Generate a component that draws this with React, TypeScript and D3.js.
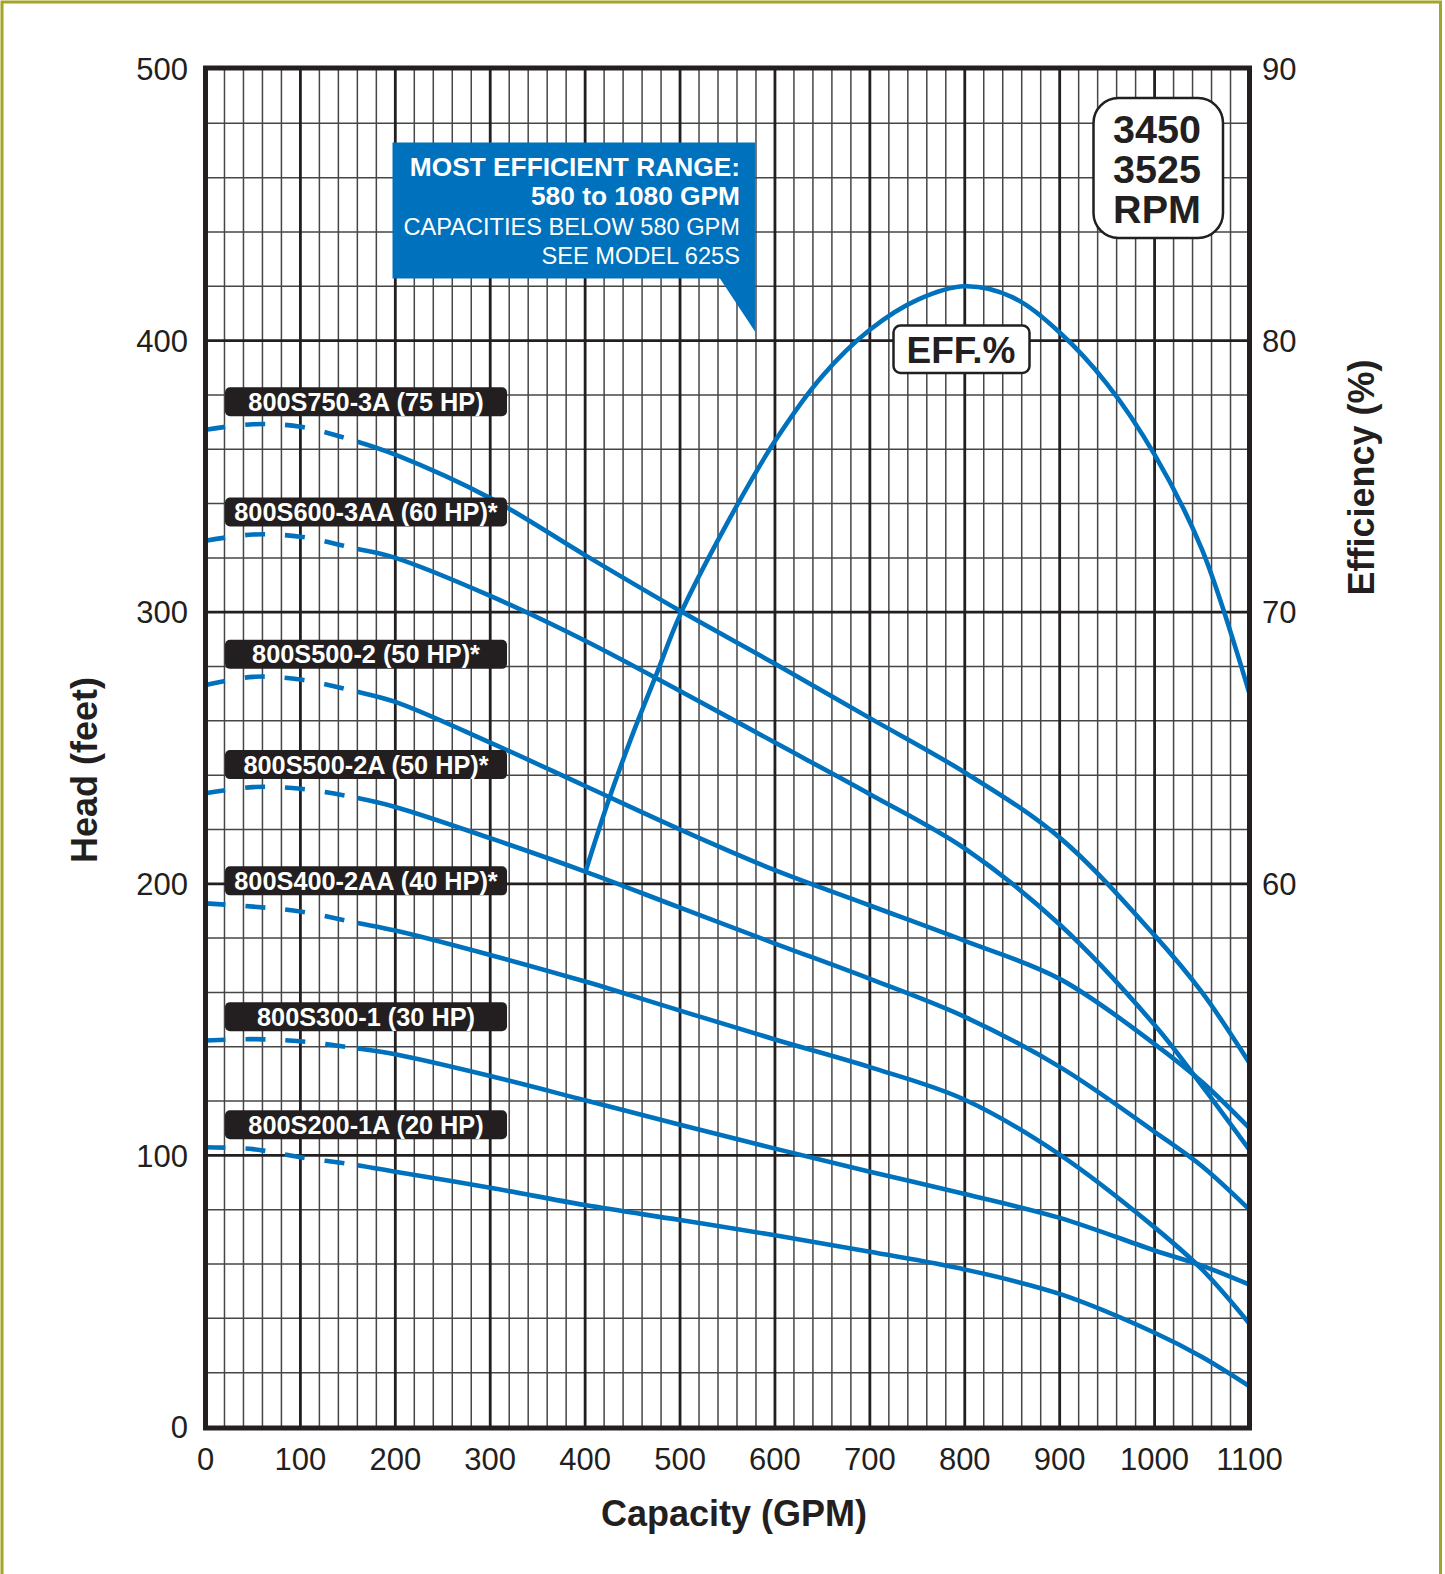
import * as d3 from 'd3';

// ---- Data ------------------------------------------------------------------
const GPM = [0, 50, 100, 160, 200, 300, 400, 500, 600, 700, 800, 900, 1000, 1050, 1100];

const HEAD_800S750_3A = [367.2, 369.2, 368.3, 362.8, 358, 342, 321, 300.5, 281, 261, 241, 217, 181, 160, 134];
const HEAD_800S600_3AA = [326.3, 328.6, 327.8, 323.3, 320, 306, 289.5, 271, 252, 233, 213, 185, 148, 125.6, 102];
const HEAD_800S500_2 = [273.2, 276.2, 275.2, 270.7, 267, 252, 236, 220, 205, 192, 179, 165, 141, 127, 110];
const HEAD_800S500_2A = [233.3, 235.6, 235, 231.6, 228.3, 216.8, 204.5, 191.2, 178, 165, 151, 132.6, 108.7, 96, 80];
const HEAD_800S400_2AA = [192.8, 191.6, 189.8, 185.6, 182.8, 173.8, 164, 153.3, 142.7, 132.5, 120.5, 100.3, 73.5, 58, 38];
const HEAD_800S300_1 = [142.3, 142.8, 142, 139.4, 137.2, 129.2, 120.3, 111.3, 102.5, 94, 85.8, 77, 65, 59.4, 52.4];
const HEAD_800S200_1A = [103, 102.3, 99.3, 96.4, 94, 88.1, 81.7, 76.2, 70.6, 64.5, 58, 49, 34.7, 25.8, 15];

const MODEL_LABELS = [
  '800S750-3A (75 HP)',
  '800S600-3AA (60 HP)*',
  '800S500-2 (50 HP)*',
  '800S500-2A (50 HP)*',
  '800S400-2AA (40 HP)*',
  '800S300-1 (30 HP)',
  '800S200-1A (20 HP)',
];
const MODEL_HEADS = [
  HEAD_800S750_3A,
  HEAD_800S600_3AA,
  HEAD_800S500_2,
  HEAD_800S500_2A,
  HEAD_800S400_2AA,
  HEAD_800S300_1,
  HEAD_800S200_1A,
];

const EFF_GPM = [400, 425, 450, 475, 500, 550, 600, 650, 700, 750, 800, 850, 900, 950, 1000, 1050, 1100];
const EFF_PCT = [60.4, 63.1, 65.5, 67.7, 69.9, 73.3, 76.3, 78.7, 80.4, 81.5, 82.0, 81.6, 80.3, 78.4, 75.8, 72.3, 67.0];

const GPM_TICKS = [0, 100, 200, 300, 400, 500, 600, 700, 800, 900, 1000, 1100];
const HEAD_TICKS = [0, 100, 200, 300, 400, 500];
const EFF_TICKS = [60, 70, 80, 90];

const DASHED_UP_TO_GPM = 160; // below this flow the curves are drawn dashed
const EFFICIENT_FROM_GPM = 580;

const RPM_LINES = ['3450', '3525', 'RPM'];
const CALLOUT_BOLD = ['MOST EFFICIENT RANGE:', '580 to 1080 GPM'];
const CALLOUT_PLAIN = ['CAPACITIES BELOW 580 GPM', 'SEE MODEL 625S'];

// ---- Layout -----------------------------------------------------------------
const WIDTH = 1445;
const HEIGHT = 1574;
const PLOT = { left: 205.5, right: 1249.5, top: 69, bottom: 1427 } as const;

const FONT = 'Liberation Sans, Arial, Helvetica, sans-serif';
const INK = '#231f20';
const BLUE = '#0071bc';
const FRAME = '#a3a526';
const CURVE_W = 4.6;

const x = d3.scaleLinear().domain([0, 1100]).range([PLOT.left, PLOT.right]);
const yHead = d3.scaleLinear().domain([0, 500]).range([PLOT.bottom, PLOT.top]);
const yEff = d3.scaleLinear().domain([40, 90]).range([PLOT.bottom, PLOT.top]);

const headLine = d3
  .line<[number, number]>()
  .x((d) => x(d[0]))
  .y((d) => yHead(d[1]))
  .curve(d3.curveCatmullRom.alpha(0.5));

const effLine = d3
  .line<[number, number]>()
  .x((d) => x(d[0]))
  .y((d) => yEff(d[1]))
  .curve(d3.curveCatmullRom.alpha(0.5));

function Grid() {
  const vMinor = d3.range(20, 1100, 20).filter((g) => g % 100 !== 0);
  const vMajor = d3.range(100, 1100, 100);
  const hMinor = d3.range(20, 500, 20).filter((h) => h % 100 !== 0);
  const hMajor = d3.range(100, 500, 100);
  return (
    <g>
      {vMinor.map((g) => (
        <line key={`vm${g}`} x1={x(g)} x2={x(g)} y1={PLOT.top} y2={PLOT.bottom} stroke="#464646" strokeWidth={1.5} />
      ))}
      {hMinor.map((h) => (
        <line key={`hm${h}`} x1={PLOT.left} x2={PLOT.right} y1={yHead(h)} y2={yHead(h)} stroke="#464646" strokeWidth={1.5} />
      ))}
      {vMajor.map((g) => (
        <line key={`vM${g}`} x1={x(g)} x2={x(g)} y1={PLOT.top} y2={PLOT.bottom} stroke={INK} strokeWidth={2.8} />
      ))}
      {hMajor.map((h) => (
        <line key={`hM${h}`} x1={PLOT.left} x2={PLOT.right} y1={yHead(h)} y2={yHead(h)} stroke={INK} strokeWidth={2.8} />
      ))}
    </g>
  );
}

export default function App() {
  const xSplit = x(DASHED_UP_TO_GPM);
  const calloutRight = x(EFFICIENT_FROM_GPM) - 1;
  const calloutLeft = 392.5;
  const calloutTop = 142.5;
  const calloutBottom = 278.5;

  return (
    <div style={{ position: 'absolute', left: 0, top: 0 }}>
      <svg width={WIDTH} height={HEIGHT} viewBox={`0 0 ${WIDTH} ${HEIGHT}`} style={{ display: 'block', background: '#fff' }}>
        <defs>
          <clipPath id="clip-dash">
            <rect x={PLOT.left - 4} y={PLOT.top} width={xSplit - PLOT.left + 4} height={PLOT.bottom - PLOT.top} />
          </clipPath>
          <clipPath id="clip-solid">
            <rect x={xSplit} y={PLOT.top} width={PLOT.right - xSplit + 4} height={PLOT.bottom - PLOT.top} />
          </clipPath>
        </defs>

        {/* outer frame */}
        <path d={`M2,${HEIGHT} V2 H1440.5 V${HEIGHT}`} fill="none" stroke={FRAME} strokeWidth={3} />

        <Grid />

        {/* most efficient range callout, pointer tip at 580 GPM */}
        <path
          d={`M${calloutLeft},${calloutTop} H${calloutRight} V${yHead(400) - 9} L${calloutRight - 35},${calloutBottom} H${calloutLeft} Z`}
          fill={BLUE}
        />
        <g fontFamily={FONT} fill="#fff" textAnchor="end">
          {CALLOUT_BOLD.map((t, i) => (
            <text key={t} x={calloutRight - 15} y={175.7 + i * 29.5} fontSize={26.3} fontWeight="bold">
              {t}
            </text>
          ))}
          {CALLOUT_PLAIN.map((t, i) => (
            <text key={t} x={calloutRight - 15} y={234.5 + i * 29.2} fontSize={23.6}>
              {t}
            </text>
          ))}
        </g>

        {/* head-capacity curves */}
        {MODEL_HEADS.map((heads, i) => {
          const pts = GPM.map((g, j) => [g, heads[j]] as [number, number]);
          const d = headLine(pts) ?? '';
          return (
            <g key={MODEL_LABELS[i]} fill="none" stroke={BLUE} strokeWidth={CURVE_W}>
              <path d={d} clipPath="url(#clip-dash)" strokeDasharray="20 20" />
              <path d={d} clipPath="url(#clip-solid)" />
            </g>
          );
        })}

        {/* efficiency curve */}
        <path
          d={effLine(EFF_GPM.map((g, i) => [g, EFF_PCT[i]] as [number, number])) ?? ''}
          fill="none"
          stroke={BLUE}
          strokeWidth={CURVE_W}
        />

        {/* model labels */}
        <g fontFamily={FONT}>
          {MODEL_LABELS.map((label, i) => {
            const cy = yHead(d3.max(MODEL_HEADS[i].slice(0, 4)) ?? 0) - 22.5;
            return (
              <g key={label}>
                <rect x={225} y={cy - 14.5} width={282} height={29} rx={5} fill={INK} />
                <text x={366} y={cy} dy="0.36em" textAnchor="middle" fontSize={25.3} fontWeight="bold" fill="#fff">
                  {label}
                </text>
              </g>
            );
          })}
        </g>

        {/* EFF.% tag */}
        <g fontFamily={FONT}>
          <rect x={893.5} y={325.5} width={136} height={47.5} rx={7} fill="#fff" stroke={INK} strokeWidth={2.5} />
          <text x={961} y={363.3} textAnchor="middle" fontSize={37} fontWeight="bold" fill={INK}>
            EFF.%
          </text>
        </g>

        {/* RPM tag */}
        <g fontFamily={FONT}>
          <rect x={1093.5} y={98} width={129.5} height={140} rx={25} fill="#fff" stroke={INK} strokeWidth={2.5} />
          {RPM_LINES.map((t, i) => (
            <text key={t} x={1157} y={143.3 + i * 40} textAnchor="middle" fontSize={39.5} fontWeight="bold" fill={INK}>
              {t}
            </text>
          ))}
        </g>

        {/* plot border */}
        <rect
          x={PLOT.left}
          y={PLOT.top - 1}
          width={PLOT.right - PLOT.left}
          height={PLOT.bottom - PLOT.top + 2}
          fill="none"
          stroke={INK}
          strokeWidth={5}
        />

        {/* axes labels */}
        <g fontFamily={FONT} fill={INK} fontSize={31}>
          {HEAD_TICKS.map((h) => (
            <text key={`h${h}`} x={188} y={yHead(h)} dy="0.36em" textAnchor="end">
              {h}
            </text>
          ))}
          {EFF_TICKS.map((e) => (
            <text key={`e${e}`} x={1262} y={yEff(e)} dy="0.36em" textAnchor="start">
              {e}
            </text>
          ))}
          {GPM_TICKS.map((g) => (
            <text key={`g${g}`} x={x(g)} y={1470} textAnchor="middle">
              {g}
            </text>
          ))}
        </g>
        <g fontFamily={FONT} fill={INK} fontSize={36} fontWeight="bold" textAnchor="middle">
          <text x={734} y={1513} dy="0.36em">
            Capacity (GPM)
          </text>
          <text transform={`translate(84.5, 770) rotate(-90)`} dy="0.36em">
            Head (feet)
          </text>
          <text transform={`translate(1361, 477.5) rotate(-90)`} dy="0.36em">
            Efficiency (%)
          </text>
        </g>
      </svg>
    </div>
  );
}
